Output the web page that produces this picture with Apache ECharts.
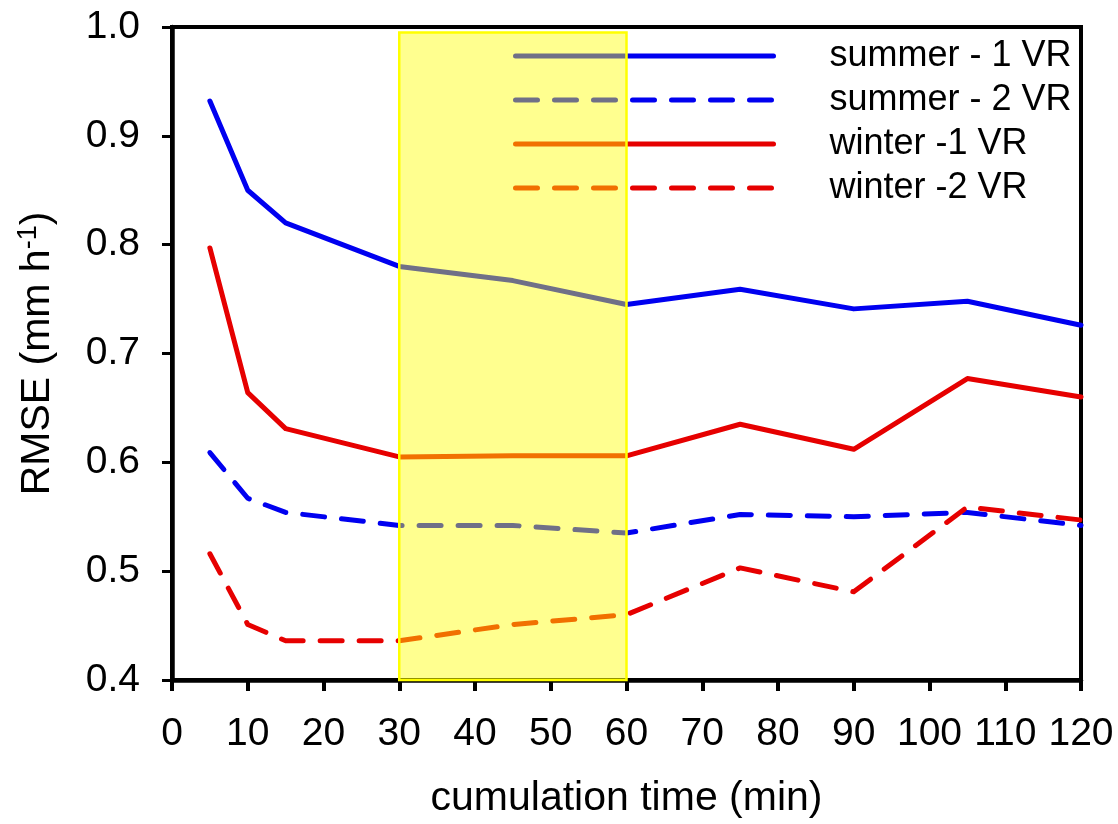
<!DOCTYPE html>
<html>
<head>
<meta charset="utf-8">
<script src="https://cdn.jsdelivr.net/npm/echarts@6/dist/echarts.min.js"></script>
<style>
  html, body { margin: 0; padding: 0; background: #fff; }
  #main { width: 1118px; height: 824px; }
</style>
</head>
<body>
<div id="main"></div>
<script>
// cumulation time (min)
const times = [5, 10, 15, 30, 45, 60, 75, 90, 105, 120]
// RMSE values
const summer1 = [0.932, 0.850, 0.820, 0.780, 0.767, 0.745, 0.759, 0.741, 0.748, 0.726]
const summer2 = [0.609, 0.567, 0.554, 0.542, 0.542, 0.535, 0.552, 0.550, 0.554, 0.542]
const winter1 = [0.797, 0.664, 0.631, 0.605, 0.606, 0.606, 0.635, 0.612, 0.677, 0.660]
const winter2 = [0.516, 0.451, 0.436, 0.436, 0.451, 0.460, 0.503, 0.481, 0.559, 0.547]
const seriesNames = ['summer - 1 VR', 'summer - 2 VR', 'winter -1 VR', 'winter -2 VR']
// highlighted window
const bandX = [30, 60]
const bandY = [0.4, 0.995]

const font = 'Liberation Sans, Arial, sans-serif'
const blue = '#0000f0'
const red = '#e60000'
const dash = [22, 17]

const pairs = (ys) => times.map((t, i) => [t, ys[i]])

const lineSeries = (name, ys, color, type) => ({
  name: name,
  type: 'line',
  data: pairs(ys),
  symbol: 'none',
  lineStyle: { color: color, width: 5, type: type, cap: 'round', join: 'round' },
  itemStyle: { color: color },
  z: 2
})

const chart = echarts.init(document.getElementById('main'))

const option = {
  animation: false,
  textStyle: { fontFamily: font },
  grid: {
    left: 172,
    right: 37,
    top: 27,
    bottom: 142,
    show: true,
    borderColor: '#000',
    borderWidth: 4
  },
  legend: {
    data: seriesNames,
    orient: 'vertical',
    left: 508,
    top: 33,
    itemWidth: 258,
    itemHeight: 14,
    itemGap: 8,
    z: 4,
    itemStyle: { opacity: 0 },
    lineStyle: { width: 5, cap: 'round' },
    textStyle: {
      fontFamily: font,
      fontSize: 36,
      color: '#000',
      padding: [0, 0, 0, 51]
    }
  },
  xAxis: {
    type: 'value',
    min: 0,
    max: 120,
    interval: 10,
    name: 'cumulation time (min)',
    nameLocation: 'middle',
    nameGap: 98,
    nameTextStyle: { fontFamily: font, fontSize: 41, color: '#000' },
    axisLine: { lineStyle: { color: '#000', width: 4.5 } },
    axisTick: { inside: false, length: 11, lineStyle: { color: '#000', width: 4 } },
    axisLabel: { fontFamily: font, fontSize: 39, color: '#000', margin: 35 },
    splitLine: { show: false }
  },
  yAxis: {
    type: 'value',
    min: 0.4,
    max: 1.0,
    interval: 0.1,
    name: 'RMSE (mm h{sup|-1})',
    nameLocation: 'middle',
    nameRotate: 90,
    nameGap: 112,
    nameTextStyle: {
      fontFamily: font,
      fontSize: 41,
      color: '#000',
      rich: {
        sup: { fontFamily: font, fontSize: 27, color: '#000', verticalAlign: 'top', padding: [0, 0, 18, 0] }
      }
    },
    axisLine: { lineStyle: { color: '#000', width: 4.5 } },
    axisTick: { inside: false, length: 10, lineStyle: { color: '#000', width: 3 } },
    axisLabel: {
      fontFamily: font,
      fontSize: 39,
      color: '#000',
      margin: 32,
      formatter: (v) => v.toFixed(1)
    },
    splitLine: { show: false }
  },
  series: [
    lineSeries(seriesNames[0], summer1, blue, 'solid'),
    lineSeries(seriesNames[1], summer2, blue, dash),
    lineSeries(seriesNames[2], winter1, red, 'solid'),
    lineSeries(seriesNames[3], winter2, red, dash),
    {
      // translucent yellow window drawn over lines and legend
      name: 'band',
      type: 'line',
      data: [],
      z: 10,
      markArea: {
        silent: true,
        z: 10,
        itemStyle: {
          color: 'rgba(255, 255, 0, 0.44)',
          borderColor: '#ffff00',
          borderWidth: 2.5
        },
        data: [[
          { xAxis: bandX[0], yAxis: bandY[0] },
          { xAxis: bandX[1], yAxis: bandY[1] }
        ]]
      }
    }
  ]
}

chart.setOption(option)
</script>
</body>
</html>
